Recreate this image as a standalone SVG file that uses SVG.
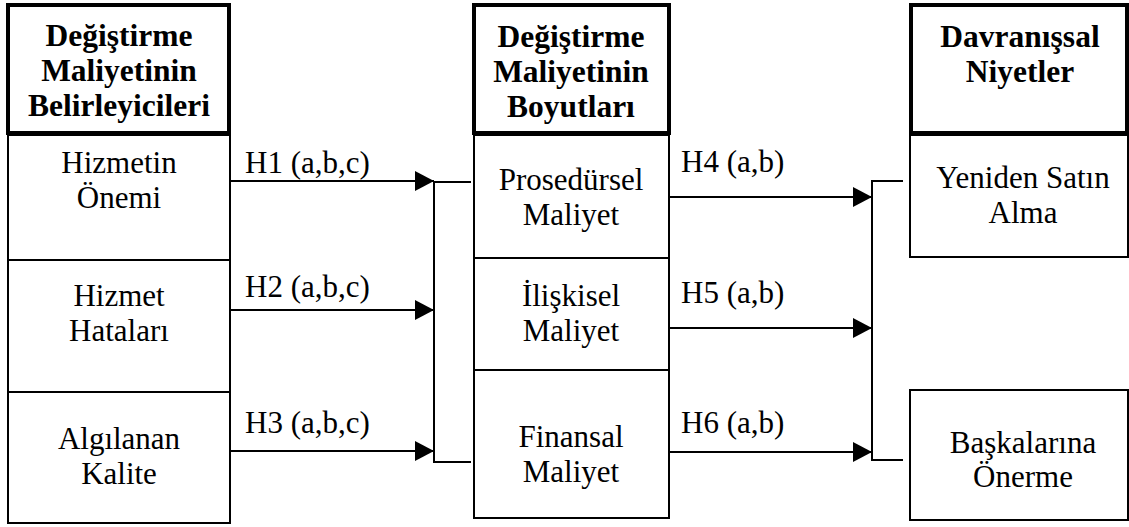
<svg xmlns="http://www.w3.org/2000/svg" width="1129" height="527" viewBox="0 0 1129 527">
<style>
.hdr{fill:#fff;stroke:#000;stroke-width:4}
.cell{fill:#fff;stroke:#000;stroke-width:2}
text{font-family:'Liberation Serif',Tinos,'Times New Roman',Times,serif;font-size:31px;fill:#000}
.t{text-anchor:middle}
.b{font-weight:bold;font-size:31.5px}
.ln{fill:none;stroke:#000;stroke-width:2}
</style>
<defs>
<marker id="ah" markerUnits="userSpaceOnUse" markerWidth="19" markerHeight="20" refX="19" refY="10" orient="auto">
<path d="M0,0 L19,10 L0,20 z" fill="#000"/>
</marker>
</defs>
<rect width="1129" height="527" fill="#fff"/>
<g id="col-left-header">
<rect class="hdr" x="8" y="5" width="221" height="128"/>
<text class="t b" x="119" y="46">Değiştirme</text>
<text class="t b" x="119" y="81">Maliyetinin</text>
<text class="t b" x="119" y="116">Belirleyicileri</text>
</g>
<g id="node-hizmetin-onemi">
<rect class="cell" x="8" y="135" width="222" height="125"/>
<text class="t" x="119" y="173">Hizmetin</text>
<text class="t" x="119" y="208">Önemi</text>
</g>
<g id="node-hizmet-hatalari">
<rect class="cell" x="8" y="260" width="222" height="132"/>
<text class="t" x="119" y="306">Hizmet</text>
<text class="t" x="119" y="341">Hataları</text>
</g>
<g id="node-algilanan-kalite">
<rect class="cell" x="8" y="392" width="222" height="131"/>
<text class="t" x="119" y="449">Algılanan</text>
<text class="t" x="119" y="484">Kalite</text>
</g>
<g id="col-mid-header">
<rect class="hdr" x="474" y="5" width="195" height="128"/>
<text class="t b" x="571" y="47">Değiştirme</text>
<text class="t b" x="571" y="82">Maliyetinin</text>
<text class="t b" x="571" y="117">Boyutları</text>
</g>
<g id="node-prosedursel">
<rect class="cell" x="474" y="135" width="195" height="123"/>
<text class="t" x="571" y="190">Prosedürsel</text>
<text class="t" x="571" y="225">Maliyet</text>
</g>
<g id="node-iliskisel">
<rect class="cell" x="474" y="258" width="195" height="112"/>
<text class="t" x="571" y="306">İlişkisel</text>
<text class="t" x="571" y="341">Maliyet</text>
</g>
<g id="node-finansal">
<rect class="cell" x="474" y="370" width="195" height="148"/>
<text class="t" x="571" y="447">Finansal</text>
<text class="t" x="571" y="482">Maliyet</text>
</g>
<g id="col-right-header">
<rect class="hdr" x="911" y="5" width="216" height="128"/>
<text class="t b" x="1020" y="47">Davranışsal</text>
<text class="t b" x="1020" y="82">Niyetler</text>
</g>
<g id="node-yeniden">
<rect class="cell" x="910" y="135" width="218" height="122"/>
<text class="t" x="1023" y="188">Yeniden Satın</text>
<text class="t" x="1023" y="223">Alma</text>
</g>
<g id="node-baskalarina">
<rect class="cell" x="910" y="390" width="218" height="130"/>
<text class="t" x="1023" y="453">Başkalarına</text>
<text class="t" x="1023" y="487">Önerme</text>
</g>
<g id="connectors">
<line class="ln" x1="230" y1="181" x2="434" y2="181" marker-end="url(#ah)"/>
<line class="ln" x1="230" y1="310" x2="434" y2="310" marker-end="url(#ah)"/>
<line class="ln" x1="230" y1="451" x2="434" y2="451" marker-end="url(#ah)"/>
<path class="ln" d="M471,182 H434 V462 H471"/>
<line class="ln" x1="669" y1="197" x2="872" y2="197" marker-end="url(#ah)"/>
<line class="ln" x1="669" y1="328" x2="872" y2="328" marker-end="url(#ah)"/>
<line class="ln" x1="669" y1="452" x2="872" y2="452" marker-end="url(#ah)"/>
<path class="ln" d="M903,181 H872 V460 H903"/>
<text x="245" y="173">H1 (a,b,c)</text>
<text x="245" y="297">H2 (a,b,c)</text>
<text x="245" y="433">H3 (a,b,c)</text>
<text x="681" y="172">H4 (a,b)</text>
<text x="681" y="303">H5 (a,b)</text>
<text x="681" y="433">H6 (a,b)</text>
</g>
</svg>
